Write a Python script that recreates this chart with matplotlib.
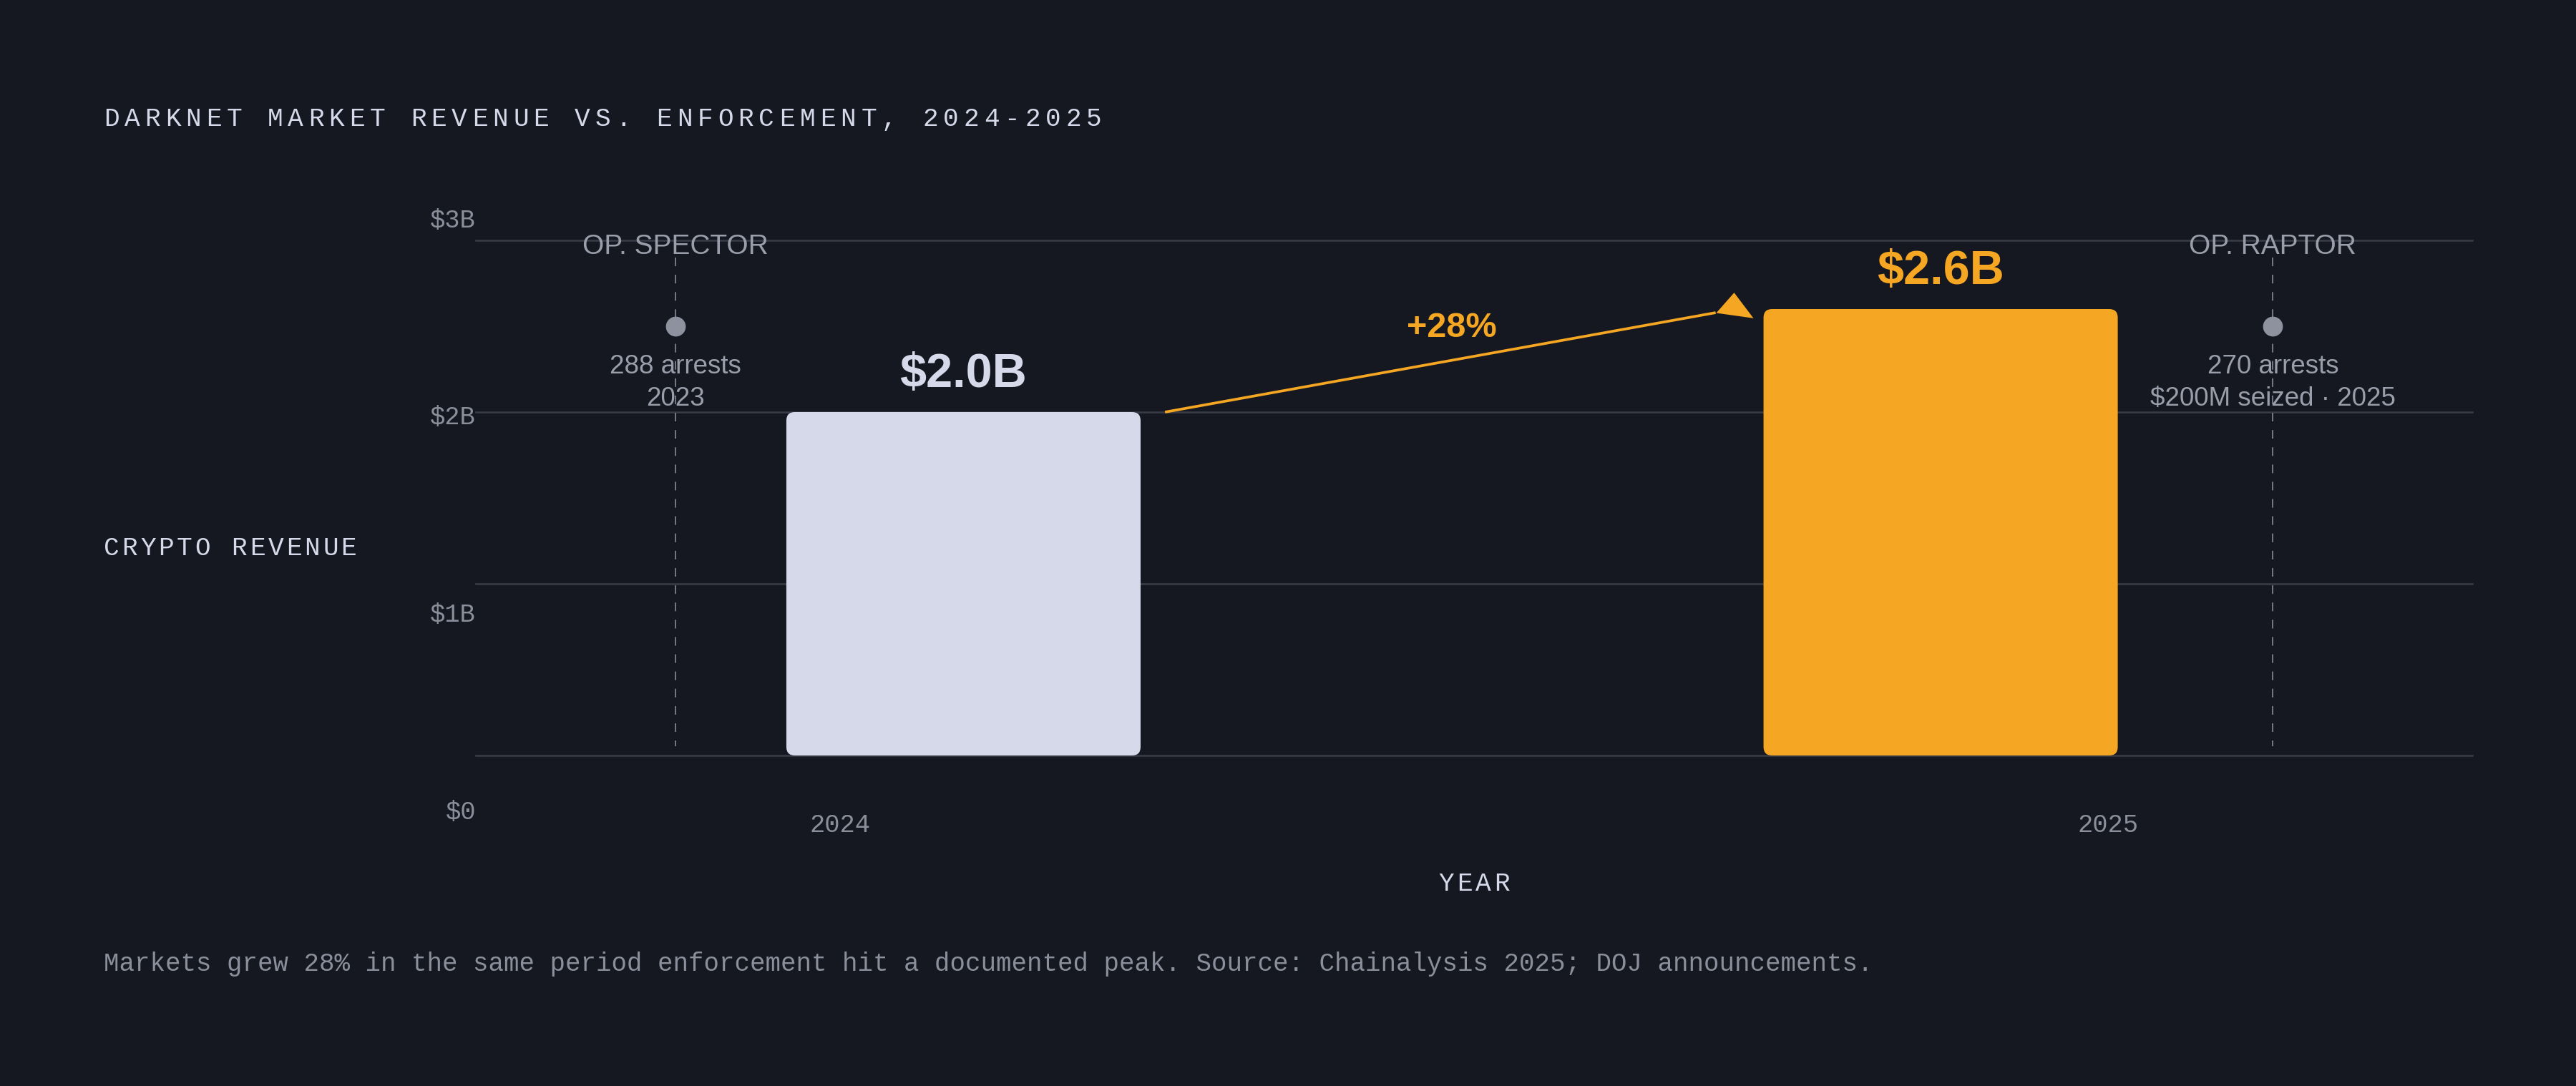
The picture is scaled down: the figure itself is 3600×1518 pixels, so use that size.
import matplotlib
matplotlib.use("Agg")
import matplotlib.pyplot as plt
from matplotlib.patches import FancyBboxPatch
from matplotlib.path import Path
from matplotlib.markers import MarkerStyle

# ---- data ----
years = ["2024", "2025"]
revenue_b = [2.0, 2.6]
value_labels = ["$2.0B", "$2.6B"]
growth_label = "+28%"
y_ticks = [0, 1, 2, 3]
y_tick_labels = ["$0", "$1B", "$2B", "$3B"]
ops = ["OP. SPECTOR", "OP. RAPTOR"]
op_x = [-0.295, 1.34]
op_marker_y = [2.5, 2.5]
op_notes = [["288 arrests", "2023"], ["270 arrests", "$200M seized \u00b7 2025"]]
title = "DARKNET MARKET REVENUE VS. ENFORCEMENT, 2024-2025"
y_label = "CRYPTO REVENUE"
x_label = "YEAR"
footnote = ("Markets grew 28% in the same period enforcement hit a documented peak. "
            "Source: Chainalysis 2025; DOJ announcements.")

# ---- style ----
W, H, DPI = 3600, 1518, 100
BG = "#151820"
LIGHT = "#d6d9ea"
ORANGE = "#f5a623"
GRID = "#393c47"
MUTED = "#8b8f9b"
OPC = "#9a9eaa"
DOT = "#8e929e"
VLINE = "#767a86"
MONO = "Liberation Mono"
SANS = "Liberation Sans"
bar_colors = [LIGHT, ORANGE]
label_colors = [LIGHT, ORANGE]

fig = plt.figure(figsize=(W / DPI, H / DPI), dpi=DPI, facecolor=BG)


def fx(px):
    return px / W


def fy(px):
    return 1 - px / H


def tracked(x_px, y_px, s, size, pitch, color, align="left"):
    # monospace text with letter spacing, one glyph per cell
    glyph = 0.6 * size * DPI / 72
    total = pitch * (len(s) - 1) + glyph
    x0 = x_px if align == "left" else x_px - total / 2
    for i, ch in enumerate(s):
        if ch == " ":
            continue
        fig.text(fx(x0 + i * pitch + glyph / 2), fy(y_px), ch, ha="center",
                 va="baseline", fontsize=size, family=MONO, color=color)


# plot area (gridline scale)
L, R, B, T = 665, 3455, 1056, 336
ax = fig.add_axes([fx(L), fy(B), fx(R) - fx(L), fy(T) - fy(B)])
ax.set_xlim(-0.499, 1.544)
ax.set_ylim(0, 3)
ax.set_axis_off()

for yv in y_ticks:
    ax.axhline(yv, color=GRID, lw=1.9, zorder=1, clip_on=False)

x = list(range(len(years)))
bars = ax.bar(x, revenue_b, width=0.3625, color=bar_colors, zorder=3)
px_x = (R - L) / (1.544 + 0.499)
px_y = (B - T) / 3
rad = 12 / px_x
for b, c in zip(bars, bar_colors):
    p = FancyBboxPatch((b.get_x(), b.get_y()), b.get_width(), b.get_height(),
                       boxstyle=f"round,pad=0,rounding_size={rad}",
                       mutation_aspect=px_x / px_y, fc=c, ec="none", zorder=3)
    ax.add_patch(p)
    b.remove()

for xi, v, lab, c in zip(x, revenue_b, value_labels, label_colors):
    ax.text(xi, v + 0.147, lab, ha="center", va="baseline", fontsize=48,
            fontweight="bold", family=SANS, color=c, zorder=5)

# growth arrow
half = 0.3625 / 2
x0, y0 = x[0] + half + 0.025, revenue_b[0]
x1, y1 = x[1] - half - 0.049, revenue_b[1] - 0.021
ax.plot([x0, x1], [y0, y1], color=ORANGE, lw=2.7, solid_capstyle="butt", zorder=4)
head = MarkerStyle(Path([(0, 0), (25, 28.4), (52, -7.3), (0, 0)],
                        [Path.MOVETO, Path.LINETO, Path.LINETO, Path.CLOSEPOLY]))
ax.plot([x1], [y1], marker=head, markersize=2 * 52 * 72 / DPI, color=ORANGE,
        markeredgewidth=0, linestyle="none", zorder=4)
ax.text((x[0] + x[1]) / 2, (revenue_b[0] + revenue_b[1]) / 2 + 0.136, growth_label,
        ha="center", va="baseline", fontsize=35, fontweight="bold", family=SANS,
        color=ORANGE, zorder=5)

# enforcement events
for ox, oy, name, notes in zip(op_x, op_marker_y, ops, op_notes):
    ax.plot([ox, ox], [2.9, 0.054], color=VLINE, lw=1.4,
            linestyle=(0, (6.2, 6.2)), zorder=2)
    ax.plot([ox], [oy], "o", ms=20, color=DOT, mec="none", zorder=4)
    ax.text(ox, 2.92, name, ha="center", va="baseline", fontsize=28,
            family=SANS, color=OPC, zorder=5)
    for k, line in enumerate(notes):
        ax.text(ox, 2.226 - 0.189 * k, line, ha="center", va="baseline",
                fontsize=26.5, family=SANS, color=OPC, zorder=5)

# tick labels (own scale)
lab = fig.add_axes([fx(L), fy(1131), fx(R) - fx(L), fy(304) - fy(1131)])
lab.set_facecolor("none")
for s in lab.spines.values():
    s.set_visible(False)
lab.set_xlim(2024 - (1174 - L) / 1772, 2025 + (R - 2946) / 1772)
lab.set_ylim(0, 3)
lab.set_xticks([int(y) for y in years], years)
lab.set_yticks(y_ticks, y_tick_labels)
lab.tick_params(length=0, pad=3.5, labelsize=25.6, labelcolor=MUTED)
lab.tick_params(axis="y", pad=0)
for t in lab.get_xticklabels() + lab.get_yticklabels():
    t.set_family(MONO)

# titles and notes
tracked(145, 176, title, 26, 28.6, LIGHT)
tracked(145, 776, y_label, 26, 25.5, LIGHT)
tracked((L + R) / 2, 1245, x_label, 26, 26, LIGHT, align="center")
fig.text(fx(145), fy(1357), footnote, ha="left", va="baseline", fontsize=25.75,
         family=MONO, color=MUTED)

fig.savefig("out.png", dpi=DPI, facecolor=BG)
